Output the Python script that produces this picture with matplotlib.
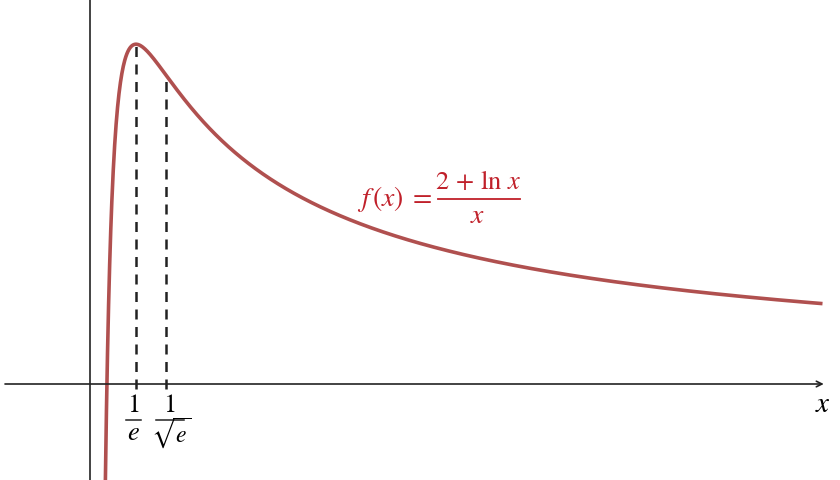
import numpy as np
import matplotlib.pyplot as plt

plt.rcParams['mathtext.fontset'] = 'stix'

# key points of f(x) = (2 + ln x) / x
x_marks = [np.exp(-1), np.exp(-0.5)]
num_labels = [r'$1$', r'$1$']
den_labels = [r'$e$', r'$\sqrt{e}$']
bar_half = [0.06, 0.112]

def f(x):
    return (2 + np.log(x)) / x

xs = np.linspace(0.12, 5.86, 2000)
ys = f(xs)

fig = plt.figure(figsize=(8.4, 4.8), dpi=100)
ax = fig.add_axes([0, 0, 1, 1])
ax.set_xlim(-0.72, 6.0)
ax.set_ylim(-0.768, 3.072)
ax.axis('off')

# axes
ax.annotate('', xy=(5.87, 0), xytext=(-0.68, 0),
            arrowprops=dict(arrowstyle='->', color='#222222', lw=1.2,
                            shrinkA=0, shrinkB=0))
ax.plot([0, 0], [-0.8, 3.1], color='#222222', lw=1.2)

# curve
ax.plot(xs, ys, color='#B0504F', lw=2.6, solid_capstyle='butt')

# dashed guides and fraction labels
for i, xm in enumerate(x_marks):
    ax.plot([xm, xm], [-0.04, f(xm)], color='#222222', lw=1.8,
            dashes=(4, 3))
    xc = xm - 0.02 if i == 0 else xm + 0.03
    ax.text(xc, -0.165, num_labels[i], ha='center', va='center', fontsize=19)
    ax.plot([xc - bar_half[i], xc + bar_half[i]], [-0.285, -0.285],
            color='#222222', lw=1.1)
    ax.text(xc + (0.0 if i == 0 else 0.01), -0.39, den_labels[i],
            ha='center', va='center', fontsize=19 if i == 0 else 17)

ax.text(5.86, -0.16, r'$x$', ha='center', va='center', fontsize=21)

# formula label
red = '#C0202A'
ax.text(2.735, 1.476, r'$f\,(x)\;=$', color=red, ha='right', va='center',
        fontsize=20)
ax.plot([2.784, 3.44], [1.476, 1.476], color=red, lw=1.3)
ax.text(3.104, 1.62, r'$2\,+\,\ln\,x$', color=red, ha='center', va='center',
        fontsize=19)
ax.text(3.104, 1.35, r'$x$', color=red, ha='center', va='center',
        fontsize=20)

fig.savefig('out.png', dpi=100)
